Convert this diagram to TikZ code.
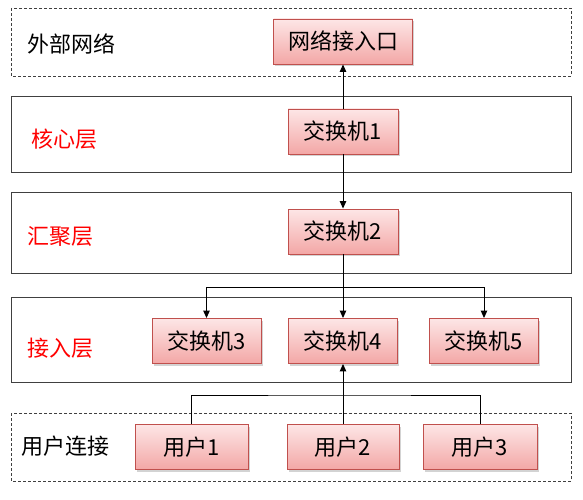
\documentclass[tikz,border=0pt]{standalone}
\usepackage{fontspec}
\setmainfont{Noto Sans CJK SC}
\usetikzlibrary{shadows,arrows.meta}
\definecolor{boxtop}{HTML}{FDE6E6}
\definecolor{boxbot}{HTML}{F3A7A6}
\definecolor{boxline}{HTML}{C0504D}
\definecolor{layerline}{HTML}{404040}
\tikzset{
  devbox/.style={draw=boxline, line width=0.9pt, top color=boxtop, bottom color=boxbot,
    minimum height=45pt, inner sep=0pt, font=\fontsize{22}{26}\selectfont,
    drop shadow={opacity=0.35, shadow xshift=1.5pt, shadow yshift=-2pt}},
  layer/.style={draw=layerline, line width=1pt},
  dlayer/.style={draw=layerline, line width=0.9pt, dash pattern=on 3pt off 2pt},
  lbl/.style={anchor=west, inner sep=0pt, font=\fontsize{22}{26}\selectfont},
  redlbl/.style={lbl, text=red},
  conn/.style={line width=1pt, draw=black},
  arr/.style={conn, -{Triangle[width=6.5pt,length=7.5pt]}}
}
\begin{document}
\begin{tikzpicture}[x=1pt,y=-1pt]
\useasboundingbox (0,0) rectangle (583,500);
% layers
\draw[dlayer] (11,8) rectangle (571,76);
\draw[layer] (11,97) rectangle (571,172);
\draw[layer] (11,192) rectangle (571,273);
\draw[layer] (11,297) rectangle (571,382);
\draw[dlayer] (11,413) rectangle (571,481);
% labels
\node[lbl] (lext) at (27,44) {外部网络};
\node[redlbl] (lcore) at (31,139) {核心层};
\node[redlbl] (lagg) at (27,236) {汇聚层};
\node[redlbl] (lacc) at (27,348) {接入层};
\node[lbl] (luser) at (21,446) {用户连接};
% devices
\node[devbox, minimum width=139pt] (gw) at (343,41.5) {网络接入口};
\node[devbox, minimum width=110pt] (s1) at (343,131.5) {交换机1};
\node[devbox, minimum width=110pt] (s2) at (343,231.5) {交换机2};
\node[devbox, minimum width=109pt] (s3) at (206.5,341) {交换机3};
\node[devbox, minimum width=109pt] (s4) at (343,341) {交换机4};
\node[devbox, minimum width=109pt] (s5) at (484,341) {交换机5};
\node[devbox, minimum width=113pt] (u1) at (191.5,447) {用户1};
\node[devbox, minimum width=112pt] (u2) at (343,447) {用户2};
\node[devbox, minimum width=114pt] (u3) at (480,447) {用户3};
% connectors
\coordinate (br) at (343,287);
\coordinate (ub) at (343,395);
\draw[arr] (s1.north) -- (gw.south);
\draw[arr] (s1.south) -- (s2.north);
\draw[arr] (s2.south) -- (s4.north);
\draw[arr] (br) -| (s3.north);
\draw[arr] (br) -| (s5.north);
\draw[conn] (u1.north) |- (ub) -| (u3.north);
\draw[arr] (u2.north) -- (s4.south);
\end{tikzpicture}
\end{document}
